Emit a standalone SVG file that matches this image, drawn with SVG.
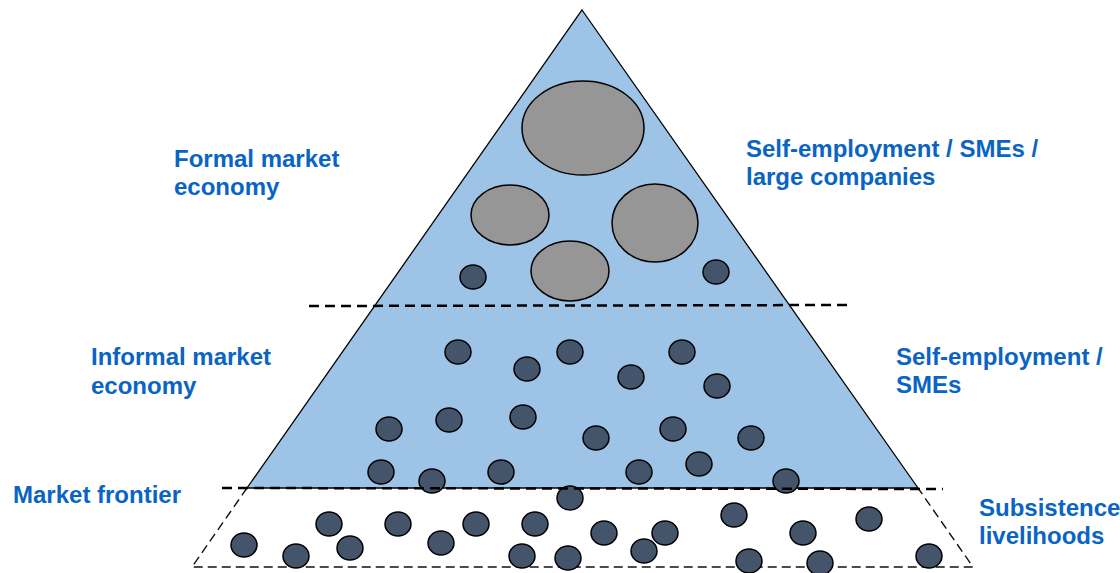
<svg xmlns="http://www.w3.org/2000/svg" width="1120" height="573" viewBox="0 0 1120 573">
<style>
.lbl{font-family:"Liberation Sans",Arial,sans-serif;font-weight:bold;font-size:24px;fill:#0A64C4}
.big{fill:#969696;stroke:#000;stroke-width:1.5}
.dot{fill:#44546A;stroke:#000;stroke-width:1.5}
.dash{fill:none;stroke:#000;stroke-width:2.5;stroke-dasharray:10 6}
.trap{fill:none;stroke:#111;stroke-width:1.4;stroke-dasharray:9 5}
</style>
<rect width="1120" height="573" fill="#fff"/>
<g id="pyramid">
<polygon points="582,10 918,488 247,488" fill="#9DC3E6" stroke="#000" stroke-width="1.3"/>
</g>
<g id="base">
<polyline class="trap" points="247,488 192,567 973,567 918,488"/>
</g>
<g id="companies">
<ellipse class="big" cx="583" cy="128" rx="61" ry="47"/>
<ellipse class="big" cx="510" cy="215" rx="39" ry="30"/>
<ellipse class="big" cx="655" cy="223" rx="43" ry="39"/>
<ellipse class="big" cx="570" cy="271" rx="39" ry="30"/>
</g>
<g id="dots">
<ellipse class="dot" cx="473" cy="277" rx="13" ry="12"/>
<ellipse class="dot" cx="716" cy="272" rx="13" ry="12"/>
<ellipse class="dot" cx="458" cy="352" rx="13" ry="12"/>
<ellipse class="dot" cx="527" cy="369" rx="13" ry="12"/>
<ellipse class="dot" cx="570" cy="352" rx="13" ry="12"/>
<ellipse class="dot" cx="631" cy="377" rx="13" ry="12"/>
<ellipse class="dot" cx="682" cy="352" rx="13" ry="12"/>
<ellipse class="dot" cx="717" cy="386" rx="13" ry="12"/>
<ellipse class="dot" cx="389" cy="429" rx="13" ry="12"/>
<ellipse class="dot" cx="449" cy="420" rx="13" ry="12"/>
<ellipse class="dot" cx="523" cy="417" rx="13" ry="12"/>
<ellipse class="dot" cx="596" cy="438" rx="13" ry="12"/>
<ellipse class="dot" cx="673" cy="429" rx="13" ry="12"/>
<ellipse class="dot" cx="751" cy="438" rx="13" ry="12"/>
<ellipse class="dot" cx="381" cy="472" rx="13" ry="12"/>
<ellipse class="dot" cx="432" cy="481" rx="13" ry="12"/>
<ellipse class="dot" cx="501" cy="472" rx="13" ry="12"/>
<ellipse class="dot" cx="639" cy="472" rx="13" ry="12"/>
<ellipse class="dot" cx="699" cy="464" rx="13" ry="12"/>
<ellipse class="dot" cx="786" cy="481" rx="13" ry="12"/>
<ellipse class="dot" cx="570" cy="498" rx="13" ry="12"/>
<ellipse class="dot" cx="244" cy="545" rx="13" ry="12"/>
<ellipse class="dot" cx="296" cy="556" rx="13" ry="12"/>
<ellipse class="dot" cx="329" cy="524" rx="13" ry="12"/>
<ellipse class="dot" cx="350" cy="548" rx="13" ry="12"/>
<ellipse class="dot" cx="398" cy="524" rx="13" ry="12"/>
<ellipse class="dot" cx="441" cy="543" rx="13" ry="12"/>
<ellipse class="dot" cx="476" cy="524" rx="13" ry="12"/>
<ellipse class="dot" cx="535" cy="524" rx="13" ry="12"/>
<ellipse class="dot" cx="522" cy="556" rx="13" ry="12"/>
<ellipse class="dot" cx="568" cy="558" rx="13" ry="12"/>
<ellipse class="dot" cx="604" cy="533" rx="13" ry="12"/>
<ellipse class="dot" cx="665" cy="533" rx="13" ry="12"/>
<ellipse class="dot" cx="644" cy="551" rx="13" ry="12"/>
<ellipse class="dot" cx="734" cy="515" rx="13" ry="12"/>
<ellipse class="dot" cx="803" cy="533" rx="13" ry="12"/>
<ellipse class="dot" cx="869" cy="519" rx="13" ry="12"/>
<ellipse class="dot" cx="749" cy="561" rx="13" ry="12"/>
<ellipse class="dot" cx="820" cy="563" rx="13" ry="12"/>
<ellipse class="dot" cx="929" cy="556" rx="13" ry="12"/>
</g>
<g id="connectors">
<line class="dash" x1="309" y1="306" x2="850" y2="305"/>
<line class="dash" x1="222" y1="488" x2="943" y2="489"/>
</g>
<g id="labels">
<text class="lbl" x="174" y="167">Formal market</text>
<text class="lbl" x="174" y="195">economy</text>
<text class="lbl" x="746" y="157">Self-employment / SMEs /</text>
<text class="lbl" x="746" y="185">large companies</text>
<text class="lbl" x="91" y="365">Informal market</text>
<text class="lbl" x="91" y="394">economy</text>
<text class="lbl" x="896" y="365">Self-employment /</text>
<text class="lbl" x="896" y="393">SMEs</text>
<text class="lbl" x="13" y="503">Market frontier</text>
<text class="lbl" x="979" y="516">Subsistence</text>
<text class="lbl" x="979" y="544">livelihoods</text>
</g>
</svg>
